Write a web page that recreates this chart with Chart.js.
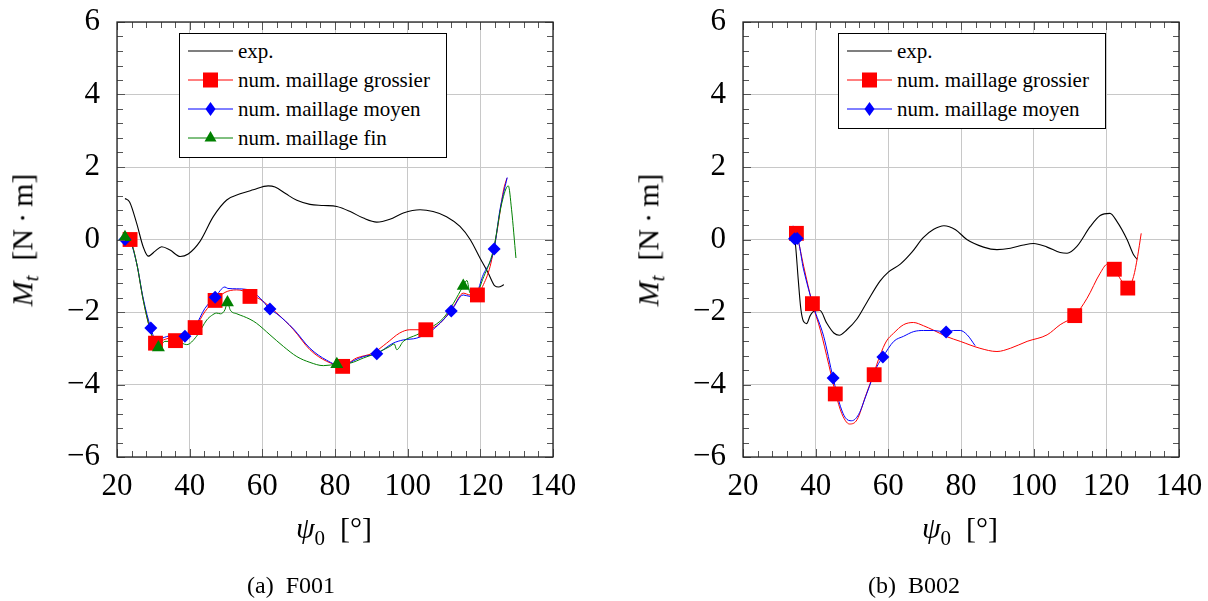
<!DOCTYPE html>
<html>
<head>
<meta charset="utf-8">
<script src="https://cdn.jsdelivr.net/npm/chart.js@4.4.1/dist/chart.umd.min.js"></script>
<style>
  html,body{margin:0;padding:0;background:#fff;}
  #wrap{position:relative;width:1208px;height:601px;overflow:hidden;font-family:'Liberation Serif','Times New Roman',Tinos,serif;color:#000;}
  canvas{position:absolute;top:0;}
  .ytitle{position:absolute;font-size:30px;white-space:nowrap;transform:translate(-50%,-50%) rotate(-90deg);}
  .xtitle{position:absolute;font-size:30px;white-space:nowrap;transform:translate(-50%,-50%);}
  .cap{position:absolute;font-size:24px;white-space:pre;transform:translate(-50%,-50%);}
  .legend{position:absolute;background:#fff;border:1.3px solid #000;box-sizing:border-box;}
  .row{position:absolute;left:0;height:24px;display:flex;align-items:center;font-size:21px;white-space:nowrap;}
  .row svg{margin-left:8px;margin-right:5px;}
  sub{font-size:70%;vertical-align:-0.3em;}
</style>
</head>
<body>
<div id="wrap">
  <canvas id="c1" width="604" height="601" style="left:0"></canvas>
  <canvas id="c2" width="604" height="601" style="left:604px"></canvas>

  <div class="ytitle" style="left:25px;top:240px"><i>M<sub>t</sub></i>&nbsp; [N&thinsp;·&thinsp;m]</div>
  <div class="ytitle" style="left:651px;top:240px"><i>M<sub>t</sub></i>&nbsp; [N&thinsp;·&thinsp;m]</div>
  <div class="xtitle" style="left:334px;top:531px"><i>ψ</i><sub>0</sub>&nbsp; [°]</div>
  <div class="xtitle" style="left:960px;top:531px"><i>ψ</i><sub>0</sub>&nbsp; [°]</div>
  <div class="cap" style="left:291px;top:585px">(a)  F001</div>
  <div class="cap" style="left:914px;top:585px">(b)  B002</div>

  <div class="legend" id="leg1" style="left:179px;top:33px;width:268px;height:125px"></div>
  <div class="legend" id="leg2" style="left:838px;top:33px;width:268px;height:96px"></div>
</div>
<script>
// ---------- data: F001 ----------
const f001Exp = [[22.2,1.13],[23.5,1.03],[25.4,0.45],[27.2,-0.2],[28.6,-0.46],[30.5,-0.32],[32.3,-0.2],[34.6,-0.29],[37.4,-0.47],[39.6,-0.4],[42.8,-0.06],[46.5,0.63],[50.2,1.09],[53.9,1.26],[57.5,1.37],[61.6,1.48],[63.5,1.45],[66.5,1.26],[69.5,1.08],[73.1,0.97],[76.8,0.94],[80.5,0.91],[84.2,0.77],[87.8,0.59],[91.5,0.48],[95.1,0.56],[98.8,0.73],[103.4,0.82],[107,0.77],[110.7,0.63],[114.4,0.36],[117.2,0],[119.9,-0.51],[122.2,-0.93],[124,-1.28],[125,-1.31],[126.5,-1.25]];
const f001Grossier = [[22.5,0.05],[23.6,0],[25.4,-0.65],[27.2,-1.66],[28.9,-2.4],[30.6,-2.86],[32.8,-2.77],[34.7,-2.72],[36.1,-2.79],[39.2,-2.63],[41.5,-2.43],[44.2,-1.99],[47,-1.68],[49.7,-1.46],[52.9,-1.39],[54.8,-1.42],[56.6,-1.52],[59.4,-1.65],[64,-2.03],[68.6,-2.49],[73.1,-3.04],[77.7,-3.36],[82.1,-3.48],[85.9,-3.27],[90.5,-3.13],[94.2,-2.86],[97.8,-2.58],[100.6,-2.49],[105,-2.49],[108.9,-2.31],[112.6,-1.85],[115.3,-1.48],[117.2,-1.53],[119.2,-1.53],[120.6,-1.3],[122.7,-0.74],[124.5,0.17],[126.4,1.37],[127.3,1.69]];
const f001GrossierMarks = [[23.6,0],[30.6,-2.86],[36.1,-2.79],[41.5,-2.43],[47,-1.68],[56.6,-1.57],[82.1,-3.5],[105,-2.49],[119.2,-1.53]];
const f001Moyen = [[22.2,0],[23.5,-0.05],[25.4,-0.65],[27.2,-1.62],[29.3,-2.44],[30.8,-2.8],[32.5,-2.72],[34.7,-2.66],[36.5,-2.72],[38.7,-2.67],[41.5,-2.4],[44.2,-1.9],[47,-1.59],[49.7,-1.31],[50.5,-1.35],[52.9,-1.36],[56.6,-1.4],[59.4,-1.62],[62.1,-1.92],[64,-2.05],[68.6,-2.47],[73.1,-3.0],[77.7,-3.33],[82.1,-3.5],[85,-3.35],[87.8,-3.23],[91.5,-3.15],[96,-2.86],[98.8,-2.77],[102.5,-2.72],[106.2,-2.54],[109,-2.3],[112,-1.97],[115.3,-1.53],[117.2,-1.57],[119,-1.48],[120.6,-1.02],[123.8,-0.26],[125.4,0.82],[127.4,1.71]];
const f001MoyenMarks = [[22.2,0],[29.3,-2.44],[38.7,-2.67],[47,-1.59],[62.1,-1.92],[91.5,-3.15],[112,-1.97],[123.8,-0.26]];
const f001Fin = [[22.2,0.06],[23.5,0],[25.4,-0.65],[27.2,-1.66],[29.1,-2.48],[31.4,-2.98],[33.2,-2.81],[36.4,-2.81],[39.2,-2.9],[41.9,-2.67],[44.7,-2.22],[46,-2.1],[47.4,-2.03],[48.5,-2.05],[49.7,-1.94],[50.4,-1.74],[51.2,-1.95],[53,-2.05],[54.8,-2.12],[56.6,-2.2],[58.4,-2.31],[62.1,-2.63],[65.8,-2.95],[69.5,-3.23],[73.1,-3.39],[76.8,-3.48],[80.5,-3.44],[84.2,-3.41],[87.8,-3.27],[91.5,-3.13],[95.1,-2.95],[96.3,-2.88],[97,-3.04],[98.8,-2.81],[102.5,-2.63],[106.2,-2.44],[109.8,-2.17],[112.6,-1.76],[115.3,-1.28],[116.3,-1.13],[117.2,-1.48],[119,-1.48],[120.6,-1.11],[123.6,-0.28],[125.9,1.0],[127.7,1.48],[128.6,0.82],[129.8,-0.51]];
const f001FinMarks = [[22.2,0.06],[31.4,-2.98],[50.4,-1.74],[80.5,-3.44],[115.3,-1.28]];

// ---------- data: B002 ----------
const b002Exp = [[33.9,0.3],[34.5,-0.2],[35.2,-1.1],[35.9,-1.9],[36.6,-2.25],[37.5,-2.32],[38.5,-2.1],[39.5,-1.98],[41.2,-1.96],[43,-2.3],[45,-2.58],[46.5,-2.64],[48.6,-2.49],[51.3,-2.2],[54,-1.75],[57.7,-1.15],[60,-0.9],[63.3,-0.68],[66.5,-0.35],[69.6,0.05],[72.5,0.28],[75.3,0.38],[78.5,0.27],[81.6,0],[86.2,-0.21],[89.9,-0.28],[93.6,-0.24],[97.2,-0.15],[100,-0.11],[103.7,-0.21],[107.3,-0.36],[109.2,-0.38],[111.9,-0.19],[115.6,0.36],[118.3,0.66],[121,0.72],[122.9,0.5],[125.7,0],[127.5,-0.42],[128.5,-0.55]];
const b002Grossier = [[34,0.3],[34.7,0.17],[36.7,-0.74],[39.1,-1.77],[41.3,-2.5],[43.6,-3.45],[45,-4.05],[46.8,-4.7],[48.2,-5.0],[49.3,-5.09],[51.4,-4.97],[53.7,-4.33],[56,-3.69],[57.7,-3.2],[59.5,-2.8],[61.4,-2.59],[64.2,-2.35],[66.9,-2.29],[69.7,-2.38],[72.4,-2.5],[76.1,-2.68],[79.8,-2.81],[85.2,-3.0],[89.9,-3.09],[93.6,-3.0],[98.2,-2.81],[103.7,-2.63],[107.3,-2.35],[111.3,-2.1],[114.7,-1.62],[118.3,-0.93],[120.3,-0.68],[122.2,-0.82],[124,-1.11],[125.9,-1.34],[127.5,-1.02],[128.6,-0.47],[129.6,0.17]];
const b002GrossierMarks = [[34.7,0.17],[39.1,-1.77],[45.4,-4.26],[56.1,-3.73],[111.3,-2.1],[122.2,-0.82],[125.9,-1.34]];
const b002Moyen = [[33.8,0.38],[34.2,0.02],[34.9,0.01],[36.7,-0.84],[39.4,-1.85],[42.2,-2.67],[44.8,-3.82],[46.8,-4.6],[48.2,-4.92],[49.9,-5.0],[51.8,-4.83],[54.1,-4.24],[56.9,-3.5],[58.5,-3.24],[61.5,-2.81],[64.2,-2.67],[67,-2.54],[69.7,-2.51],[72.5,-2.51],[75.9,-2.55],[78,-2.51],[79.8,-2.51],[81.7,-2.63],[83.9,-2.93]];
const b002MoyenMarks = [[34.2,0.02],[34.9,0.03],[44.8,-3.82],[58.5,-3.24],[75.9,-2.55]];

// ---------- axes ----------
const xMin = 20, xMax = 140, xStep = 20, xMinor = 4;
const yMin = -6, yMax = 6, yStep = 2, yMinor = 0.4;
const seriesNames = ['exp.', 'num. maillage grossier', 'num. maillage moyen', 'num. maillage fin'];

const pts = a => a.map(p => ({x:p[0], y:p[1]}));
const fmt = v => (v < 0 ? '\u2212' + Math.abs(v) : String(v));

const frameTicks = {
  id:'frameTicks',
  afterDraw(chart){
    const {ctx, chartArea:a, scales:{x, y}} = chart;
    ctx.save();
    ctx.strokeStyle = '#555'; ctx.lineWidth = 1;
    ctx.beginPath();
    const nx = Math.round((xMax - xMin) / xMinor);
    for (let i = 0; i <= nx; i++) {
      const v = xMin + i * xMinor;
      const major = Math.abs((v - xMin) / xStep - Math.round((v - xMin) / xStep)) < 1e-6;
      const L = major ? 8 : 6;
      const px = Math.round(x.getPixelForValue(v)) + 0.5;
      ctx.moveTo(px, a.bottom); ctx.lineTo(px, a.bottom - L);
      ctx.moveTo(px, a.top); ctx.lineTo(px, a.top + L);
    }
    const ny = Math.round((yMax - yMin) / yMinor);
    for (let i = 0; i <= ny; i++) {
      const v = yMin + i * yMinor;
      const major = Math.abs((v - yMin) / yStep - Math.round((v - yMin) / yStep)) < 1e-6;
      const L = major ? 8 : 6;
      const py = Math.round(y.getPixelForValue(v)) + 0.5;
      ctx.moveTo(a.left, py); ctx.lineTo(a.left + L, py);
      ctx.moveTo(a.right, py); ctx.lineTo(a.right - L, py);
    }
    ctx.stroke();
    ctx.strokeStyle = '#222'; ctx.lineWidth = 1.3;
    ctx.strokeRect(a.left, a.top, a.right - a.left, a.bottom - a.top);
    ctx.restore();
  }
};

function lineDs(data, color, w, order){
  return {data: pts(data), showLine:true, borderColor:color, backgroundColor:color, borderWidth:w,
          pointRadius:0, cubicInterpolationMode:'monotone', order:order};
}
function markDs(data, color, style, r, order){
  return {data: pts(data), showLine:false, borderColor:color, backgroundColor:color, borderWidth:0,
          pointStyle:style, pointRadius:r, order:order};
}

function makeChart(id, yWidth, rightPad, datasets){
  const tickFont = {family:"'Liberation Serif', 'Times New Roman', Tinos, serif", size:31};
  return new Chart(document.getElementById(id), {
    type:'scatter',
    data:{datasets},
    options:{
      animation:false, responsive:false, events:[],
      layout:{padding:{left:0, right:rightPad, top:22, bottom:0}},
      plugins:{legend:{display:false}, tooltip:{enabled:false}},
      scales:{
        x:{type:'linear', min:xMin, max:xMax,
           ticks:{stepSize:xStep, font:tickFont, color:'#000', padding:11, maxRotation:0, callback:fmt},
           grid:{color:'#c8c8c8', lineWidth:1, drawTicks:false}, border:{display:false},
           afterFit(s){ s.height = 144; s.paddingLeft = 0; s.paddingRight = 0; s.paddingTop = 0; s.paddingBottom = 0; }},
        y:{type:'linear', min:yMin, max:yMax,
           ticks:{stepSize:yStep, font:tickFont, color:'#000', padding:17, callback:fmt},
           grid:{color:'#c8c8c8', lineWidth:1, drawTicks:false}, border:{display:false},
           afterFit(s){ s.width = yWidth; s.paddingLeft = 0; s.paddingRight = 0; s.paddingTop = 0; s.paddingBottom = 0; }}
      }
    },
    plugins:[frameTicks]
  });
}

makeChart('c1', 117, 51, [
  lineDs(f001Exp, '#000000', 1.1, 20),
  lineDs(f001Grossier, '#ff0000', 1, 18),
  lineDs(f001Moyen, '#0000ff', 1, 16),
  lineDs(f001Fin, '#008000', 1, 14),
  markDs(f001GrossierMarks, '#ff0000', 'rect', 10.5, 6),
  markDs(f001MoyenMarks, '#0000ff', 'rectRot', 6.5, 4),
  markDs(f001FinMarks, '#008000', 'triangle', 7.5, 2)
]);
makeChart('c2', 139, 29, [
  lineDs(b002Exp, '#000000', 1.1, 20),
  lineDs(b002Grossier, '#ff0000', 1, 18),
  lineDs(b002Moyen, '#0000ff', 1, 16),
  markDs(b002GrossierMarks, '#ff0000', 'rect', 10.5, 6),
  markDs(b002MoyenMarks, '#0000ff', 'rectRot', 6.5, 4)
]);

// ---------- legends ----------
const symbols = {
  'exp.': '<line x1="0" y1="12" x2="45" y2="12" stroke="#000" stroke-width="1.2"/>',
  'num. maillage grossier': '<line x1="0" y1="12" x2="45" y2="12" stroke="#ff0000" stroke-width="1"/><rect x="15" y="4.5" width="15" height="15" fill="#ff0000"/>',
  'num. maillage moyen': '<line x1="0" y1="12" x2="45" y2="12" stroke="#0000ff" stroke-width="1"/><polygon points="22.5,5 27.5,12 22.5,19 17.5,12" fill="#0000ff"/>',
  'num. maillage fin': '<line x1="0" y1="12" x2="45" y2="12" stroke="#008000" stroke-width="1"/><polygon points="22.5,5 28.5,15.5 16.5,15.5" fill="#008000"/>'
};
function buildLegend(id, names){
  const el = document.getElementById(id);
  names.forEach((n, i) => {
    const r = document.createElement('div');
    r.className = 'row';
    r.style.top = (5 + i * 29) + 'px';
    r.innerHTML = '<svg width="45" height="24">' + symbols[n] + '</svg><span>' + n + '</span>';
    el.appendChild(r);
  });
}
buildLegend('leg1', seriesNames);
buildLegend('leg2', seriesNames.slice(0, 3));
</script>
</body>
</html>
